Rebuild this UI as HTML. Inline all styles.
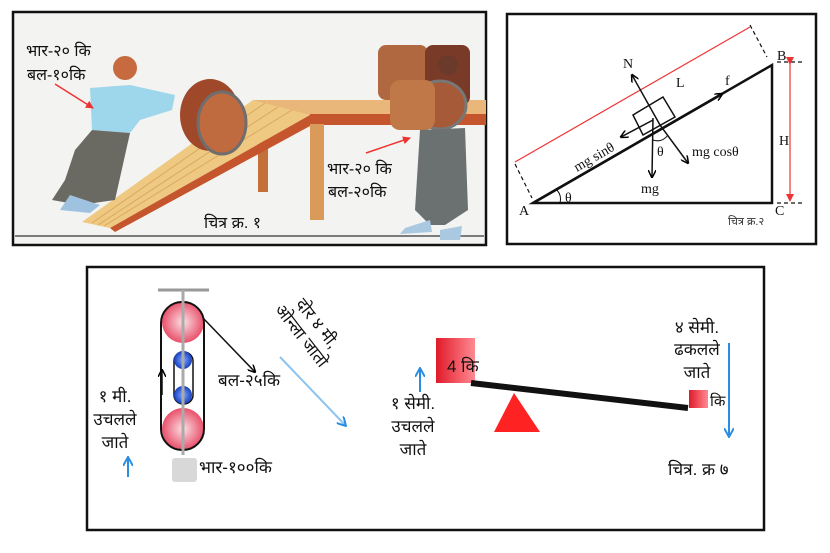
<!DOCTYPE html>
<html><head><meta charset="utf-8"><style>
html,body{margin:0;padding:0;background:#fff;}
svg{display:block;}
text{font-family:"Liberation Sans",sans-serif;}
</style></head><body>
<svg width="830" height="553" viewBox="0 0 830 553" xmlns="http://www.w3.org/2000/svg">
<defs>
<marker id="ah" markerWidth="8" markerHeight="8" refX="7" refY="4" orient="auto" markerUnits="userSpaceOnUse"><path d="M0,0 L8,4 L0,8" fill="none" stroke="#000" stroke-width="1.5"/></marker>
<marker id="ahr" markerWidth="8" markerHeight="8" refX="7" refY="4" orient="auto" markerUnits="userSpaceOnUse"><path d="M0,0 L8,4 L0,8 z" fill="#e33"/></marker>
<marker id="ahb" markerWidth="10" markerHeight="10" refX="9" refY="5" orient="auto" markerUnits="userSpaceOnUse"><path d="M0,0 L9,5 L0,10" fill="none" stroke="#2a8de0" stroke-width="2"/></marker>
<radialGradient id="pk" cx="50%" cy="50%" r="50%"><stop offset="0" stop-color="#fbe0e4"/><stop offset="1" stop-color="#e8506a"/></radialGradient>
<radialGradient id="bl" cx="50%" cy="50%" r="50%"><stop offset="0" stop-color="#7aa8ff"/><stop offset="1" stop-color="#1a40c0"/></radialGradient>
<linearGradient id="rb" x1="0" x2="1"><stop offset="0" stop-color="#e01a2a"/><stop offset="1" stop-color="#ff8a92"/></linearGradient>
</defs>

<!-- Panel 1 -->
<rect x="13" y="12" width="473" height="233" fill="#f3f3f1" stroke="#111" stroke-width="2.5"/>
<line x1="15" y1="236" x2="484" y2="236" stroke="#555" stroke-width="1.5"/>
<rect x="253" y="100" width="233" height="15" fill="#e9b779"/>
<rect x="310" y="114" width="176" height="11" fill="#c4552c"/>
<rect x="310" y="124" width="14" height="96" fill="#d99a5a"/>
<rect x="258" y="140" width="10" height="52" fill="#c4703a"/>
<polygon points="253,100 310,115 110,228 82,222" fill="#efc982"/>
<polygon points="310,115 310,126 115,232 110,228" fill="#c4552c"/>
<g stroke="#d9a860" stroke-width="1">
<line x1="265" y1="103" x2="92" y2="223"/><line x1="278" y1="107" x2="98" y2="225"/><line x1="292" y1="110" x2="104" y2="226"/>
</g>
<ellipse cx="210" cy="115" rx="30" ry="36" fill="#a0482a"/>
<ellipse cx="222" cy="123" rx="24" ry="31" fill="#c06a40" stroke="#6e6e6e" stroke-width="3"/>
<circle cx="125" cy="68" r="12" fill="#c76a40"/>
<polygon points="90,88 130,85 175,95 172,110 140,120 130,133 92,130" fill="#9ed6ec"/>
<polygon points="92,130 130,133 115,200 80,205 52,200 65,180 75,150" fill="#6a6a62"/>
<polygon points="70,195 100,205 90,213 60,210" fill="#9fc2e0"/>
<rect x="378" y="45" width="50" height="55" rx="8" fill="#b06840"/>
<rect x="425" y="45" width="45" height="60" rx="8" fill="#7a3a28"/>
<ellipse cx="440" cy="105" rx="26" ry="24" fill="#a65a38" stroke="#777" stroke-width="3"/>
<rect x="390" y="80" width="45" height="50" rx="10" fill="#c07848"/>
<circle cx="448" cy="65" r="10" fill="#6a3a2a"/>
<polygon points="420,130 465,128 468,210 445,225 430,225 415,210" fill="#6b7070"/>
<polygon points="405,228 430,220 432,232 400,234" fill="#aac8e0"/>
<polygon points="440,230 462,226 460,240 440,240" fill="#aac8e0"/>
<line x1="55" y1="84" x2="93" y2="108" stroke="#e33" stroke-width="1.5" marker-end="url(#ahr)"/>
<line x1="366" y1="153" x2="410" y2="138" stroke="#e33" stroke-width="1.5" marker-end="url(#ahr)"/>
<g font-size="16" fill="#111">
<text x="26" y="56">भार-२० कि</text>
<text x="27" y="80">बल-१०कि</text>
<text x="327" y="174">भार-२० कि</text>
<text x="328" y="197">बल-२०कि</text>
<text x="204" y="228">चित्र क्र. १</text>
</g>

<!-- Panel 2 -->
<rect x="507" y="14" width="309" height="230" fill="#fff" stroke="#111" stroke-width="2.5"/>
<line x1="515" y1="162" x2="750" y2="27" stroke="#e33" stroke-width="1.2"/>
<g stroke="#111" stroke-width="1.2" stroke-dasharray="4,3" fill="none">
<line x1="515" y1="164" x2="532" y2="198"/>
<line x1="750" y1="25" x2="767" y2="57"/>
<line x1="777" y1="62" x2="804" y2="62"/>
<line x1="777" y1="203" x2="803" y2="203"/>
</g>
<line x1="790" y1="64" x2="790" y2="201" stroke="#e33" stroke-width="1.2" marker-end="url(#ahr)" marker-start="url(#ahr)"/>
<polygon points="533,203 772,203 772,65" fill="none" stroke="#111" stroke-width="2.5"/>
<line x1="533" y1="203" x2="722" y2="94" stroke="#111" stroke-width="2.5" marker-end="url(#ah)"/>
<polygon points="633,115 663,97 675,117 643,135" fill="none" stroke="#111" stroke-width="1.5"/>
<line x1="660" y1="125" x2="632" y2="75" stroke="#111" stroke-width="1.5" marker-end="url(#ah)"/>
<line x1="660" y1="125" x2="688" y2="163" stroke="#111" stroke-width="1.5" marker-end="url(#ah)"/>
<line x1="653" y1="118" x2="652" y2="177" stroke="#111" stroke-width="1.5" marker-end="url(#ah)"/>
<line x1="653" y1="120" x2="621" y2="137" stroke="#111" stroke-width="1.5" marker-end="url(#ah)"/>
<path d="M653,140 Q662,143 668,135" fill="none" stroke="#111"/>
<path d="M557,190 Q562,196 560,203" fill="none" stroke="#111"/>
<g style="font-family:'Liberation Serif',serif" font-size="14" fill="#111">
<text style="font-family:'Liberation Serif',serif" x="623" y="68">N</text>
<text style="font-family:'Liberation Serif',serif" x="676" y="87">L</text>
<text style="font-family:'Liberation Serif',serif" x="725" y="85">f</text>
<text style="font-family:'Liberation Serif',serif" x="779" y="145">H</text>
<text style="font-family:'Liberation Serif',serif" x="657" y="156">θ</text>
<text style="font-family:'Liberation Serif',serif" x="692" y="156">mg cosθ</text>
<text style="font-family:'Liberation Serif',serif" x="641" y="193">mg</text>
<text style="font-family:'Liberation Serif',serif" x="565" y="202">θ</text>
<text style="font-family:'Liberation Serif',serif" x="519" y="215">A</text>
<text style="font-family:'Liberation Serif',serif" x="775" y="215">C</text>
<text style="font-family:'Liberation Serif',serif" x="777" y="60">B</text>
<text style="font-family:'Liberation Serif',serif" x="577" y="172" transform="rotate(-30 577 172)">mg sinθ</text>
</g>
<text x="728" y="225" font-size="11" fill="#333">चित्र क्र.२</text>

<!-- Panel 3 -->
<rect x="87" y="267" width="677" height="263" fill="#fff" stroke="#111" stroke-width="2.5"/>
<line x1="158" y1="290" x2="209" y2="290" stroke="#999" stroke-width="3"/>
<ellipse cx="183" cy="322" rx="21" ry="21" fill="url(#pk)"/>
<ellipse cx="183" cy="429" rx="21" ry="21" fill="url(#pk)"/>
<rect x="161" y="302" width="43" height="148" rx="21" fill="none" stroke="#111" stroke-width="2"/>
<rect x="174" y="352" width="19" height="52" rx="9" fill="none" stroke="#111" stroke-width="1.5"/>
<circle cx="183" cy="360" r="9" fill="url(#bl)"/>
<circle cx="183" cy="395" r="9" fill="url(#bl)"/>
<line x1="183" y1="290" x2="183" y2="455" stroke="#aaa" stroke-width="3"/>
<rect x="172" y="458" width="25" height="24" rx="3" fill="#d8d8d8"/>
<line x1="162" y1="395" x2="162" y2="370" stroke="#111" stroke-width="1.5" marker-end="url(#ah)"/>
<line x1="203" y1="318" x2="255" y2="372" stroke="#111" stroke-width="1.5" marker-end="url(#ah)"/>
<line x1="128" y1="477" x2="128" y2="457" stroke="#2a8de0" stroke-width="2" marker-end="url(#ahb)"/>
<line x1="280" y1="357" x2="346" y2="426" stroke="#8cc4f0" stroke-width="2" marker-end="url(#ahb)"/>
<g font-size="17" fill="#111">
<text x="218" y="386">बल-२५कि</text>
<text x="199" y="473">भार-१००कि</text>
<text x="115" y="402" text-anchor="middle">१ मी.</text>
<text x="115" y="425" text-anchor="middle">उचलले</text>
<text x="115" y="448" text-anchor="middle">जाते</text>
<g transform="translate(305,333) rotate(52)">
<text x="0" y="-10" text-anchor="middle">दोर ४ मी,</text>
<text x="0" y="10" text-anchor="middle">ओन्ला जातो</text>
</g>
</g>
<rect x="436" y="338" width="39" height="45" fill="url(#rb)"/>
<line x1="471" y1="383" x2="688" y2="408" stroke="#111" stroke-width="6"/>
<polygon points="514,393 494,432 540,432" fill="#f22"/>
<rect x="689" y="390" width="19" height="18" fill="url(#rb)"/>
<line x1="420" y1="392" x2="420" y2="368" stroke="#2a8de0" stroke-width="2" marker-end="url(#ahb)"/>
<line x1="729" y1="343" x2="729" y2="437" stroke="#2a8de0" stroke-width="2" marker-end="url(#ahb)"/>
<g font-size="17" fill="#111">
<text x="447" y="372">4 कि</text>
<text x="710" y="406" font-size="15">कि</text>
<text x="413" y="409" text-anchor="middle">१ सेमी.</text>
<text x="413" y="432" text-anchor="middle">उचलले</text>
<text x="413" y="455" text-anchor="middle">जाते</text>
<text x="697" y="333" text-anchor="middle">४ सेमी.</text>
<text x="697" y="355" text-anchor="middle">ढकलले</text>
<text x="697" y="378" text-anchor="middle">जाते</text>
<text x="668" y="475">चित्र. क्र ७</text>
</g>
</svg>
</body></html>
